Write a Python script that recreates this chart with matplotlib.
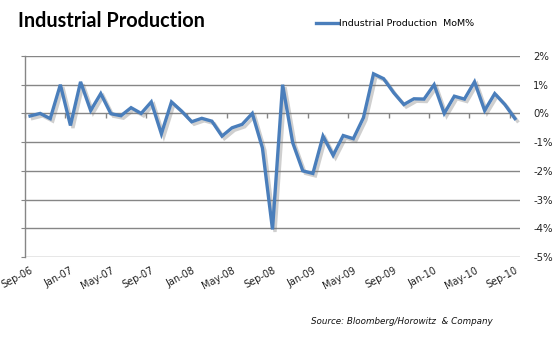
import matplotlib
matplotlib.use("Agg")
import matplotlib.pyplot as plt
import matplotlib.patheffects as pe
from matplotlib.lines import Line2D
import numpy as np

months = ["Sep-06", "Oct-06", "Nov-06", "Dec-06", "Jan-07", "Feb-07", "Mar-07", "Apr-07",
          "May-07", "Jun-07", "Jul-07", "Aug-07", "Sep-07", "Oct-07", "Nov-07", "Dec-07",
          "Jan-08", "Feb-08", "Mar-08", "Apr-08", "May-08", "Jun-08", "Jul-08", "Aug-08",
          "Sep-08", "Oct-08", "Nov-08", "Dec-08", "Jan-09", "Feb-09", "Mar-09", "Apr-09",
          "May-09", "Jun-09", "Jul-09", "Aug-09", "Sep-09", "Oct-09", "Nov-09", "Dec-09",
          "Jan-10", "Feb-10", "Mar-10", "Apr-10", "May-10", "Jun-10", "Jul-10", "Aug-10",
          "Sep-10"]
mom_pct = [-0.09, 0.0, -0.18, 1.0, -0.42, 1.1, 0.1, 0.69,
           -0.01, -0.08, 0.2, 0.0, 0.4, -0.71, 0.4, 0.08,
           -0.29, -0.17, -0.27, -0.79, -0.5, -0.38, 0.0, -1.2,
           -4.04, 1.0, -1.02, -2.0, -2.09, -0.79, -1.46, -0.77,
           -0.88, -0.15, 1.38, 1.21, 0.72, 0.31, 0.51, 0.5,
           1.0, 0.0, 0.6, 0.5, 1.1, 0.1, 0.69, 0.31,
           -0.18]
y_ticks = [2, 1, 0, -1, -2, -3, -4, -5]
label_every = 4
series_name = "Industrial Production  MoM%"

W, H = 558, 337
fig = plt.figure(figsize=(W / 100, H / 100), dpi=100)
ax = fig.add_axes([25 / W, 1 - 257 / H, (520 - 25) / W, (257 - 56) / H])

x = np.arange(len(months))
blue = "#4a7ebb"
grid = "#868686"

ax.plot(x, mom_pct, color=blue, lw=2.4, solid_joinstyle="miter", zorder=5,
        path_effects=[pe.SimpleLineShadow(offset=(1.8, -1.8), shadow_color="#777777", alpha=0.35),
                      pe.Normal()])

ax.set_xlim(-0.5, len(months) - 0.5)
ax.set_ylim(min(y_ticks), max(y_ticks))
ax.set_yticks(y_ticks)
ax.set_yticklabels([f"{v}%" for v in y_ticks])
ax.yaxis.grid(True, color=grid, lw=1.0)
ax.set_axisbelow(True)

for s in ["top", "right", "bottom"]:
    ax.spines[s].set_visible(False)
ax.spines["left"].set_color(grid)
ax.spines["left"].set_linewidth(1.0)

ax.tick_params(axis="y", left=True, right=False, labelleft=False, labelright=True,
               length=3, color=grid, pad=6.5, labelsize=7.3, labelcolor="#222222")

lbl_idx = x[::label_every]
ax.set_xticks(lbl_idx)
ax.set_xticklabels([months[i] for i in lbl_idx], rotation=28, ha="right",
                   rotation_mode="anchor")
ax.tick_params(axis="x", length=0, pad=6, labelsize=7, labelcolor="#222222")

# category-boundary tick marks on the zero line
bounds = np.arange(-0.5, len(months) - 0.5, label_every)
ax.plot(bounds, np.zeros_like(bounds), ls="none", marker=3, ms=3.5, mew=1.0,
        color=grid, zorder=3, clip_on=False)

fig.text(18 / W, 1 - 21 / H, "Industrial Production", fontsize=14.3, fontweight="bold",
         family="Lato", ha="left", va="center", color="#000000")

handle = Line2D([], [], color=blue, lw=2.4)
ax.legend([handle], [series_name], loc="center left", bbox_to_anchor=(316 / W, 1 - 24 / H),
          bbox_transform=fig.transFigure, frameon=False, fontsize=6.8,
          handlelength=2.3, handletextpad=0.15, borderpad=0, borderaxespad=0)

fig.text(493 / W, 1 - 322 / H, "Source: Bloomberg/Horowitz  & Company", fontsize=6.3,
         style="italic", ha="right", va="center", color="#111111")

fig.savefig("out.png", dpi=100)
